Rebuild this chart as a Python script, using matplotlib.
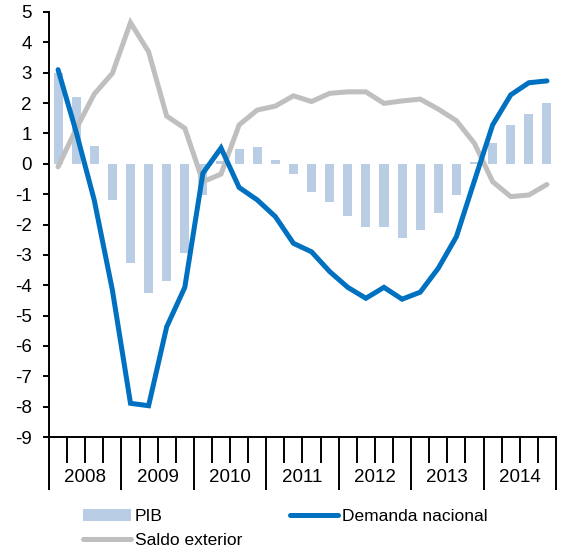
import matplotlib
matplotlib.use("Agg")
import matplotlib.pyplot as plt
import numpy as np

plt.rcParams['font.family'] = ['Liberation Sans', 'DejaVu Sans']

years = ['2008', '2009', '2010', '2011', '2012', '2013', '2014']
pib = [3.0, 2.2, 0.6, -1.2, -3.28, -4.27, -3.85, -2.93,
       -1.03, 0.1, 0.49, 0.56, 0.12, -0.34, -0.92, -1.27,
       -1.71, -2.07, -2.07, -2.43, -2.18, -1.63, -1.03, 0.05,
       0.67, 1.28, 1.64, 2.01]
demanda = [3.1, 1.05, -1.2, -4.16, -7.89, -7.97, -5.37, -4.07,
           -0.31, 0.52, -0.78, -1.19, -1.74, -2.62, -2.9, -3.55,
           -4.07, -4.43, -4.07, -4.46, -4.23, -3.44, -2.4, -0.55,
           1.28, 2.27, 2.67, 2.73]
saldo = [-0.1, 1.15, 2.3, 2.98, 4.65, 3.69, 1.57, 1.17,
         -0.59, -0.34, 1.28, 1.77, 1.9, 2.24, 2.05, 2.32,
         2.37, 2.37, 1.99, 2.07, 2.13, 1.8, 1.42, 0.67,
         -0.59, -1.08, -1.03, -0.68]

x = np.arange(len(pib))

fig = plt.figure(figsize=(5.61, 5.53), dpi=100)
ax = fig.add_axes([49/561, 116/553, (556-49)/561, (437-12)/553])

bar_c = '#B9CDE5'
blue = '#0070C0'
gray = '#BFBFBF'

hb = ax.bar(x, pib, width=0.5, color=bar_c, label='PIB', zorder=1)
hd, = ax.plot(x, demanda, color=blue, lw=3.6, label='Demanda nacional',
              solid_capstyle='round', solid_joinstyle='miter', zorder=3)
hs, = ax.plot(x, saldo, color=gray, lw=3.6, label='Saldo exterior',
              solid_capstyle='round', solid_joinstyle='miter', zorder=2)

ax.set_xlim(-0.5, len(pib) - 0.5)
ax.set_ylim(-9, 5)
ax.set_yticks(range(-9, 6))
ax.set_yticklabels([str(v) for v in range(-9, 6)], fontsize=13.5)

for s in ['top', 'right']:
    ax.spines[s].set_visible(False)
for s in ['left', 'bottom']:
    ax.spines[s].set_linewidth(1.4)

ax.tick_params(axis='y', length=4.5, width=1.4, pad=8)

major = np.arange(-0.5, len(pib), 4)
minor = [b for b in np.arange(-0.5, len(pib), 1) if b not in major]
ax.set_xticks(major)
ax.set_xticks(minor, minor=True)
ax.set_xticklabels([])
ax.tick_params(axis='x', which='major', direction='out', length=38, width=1.4)
ax.tick_params(axis='x', which='minor', direction='out', length=18.5, width=1.4)

trans = matplotlib.transforms.blended_transform_factory(ax.transData, fig.transFigure)
for k, yr in enumerate(years):
    ax.text(1.5 + 4 * k, 1 - 477/553, yr, transform=trans, ha='center', va='center',
            fontsize=13.5)

leg = fig.legend([hb, hs, hd], ['PIB', 'Saldo exterior', 'Demanda nacional'],
                 ncol=2, loc='upper left', bbox_to_anchor=(83/561, 1 - 509/553),
                 frameon=False, fontsize=12.5, handlelength=2.76, handletextpad=0.23,
                 columnspacing=2.75, labelspacing=0.52, borderaxespad=0, borderpad=0)

fig.savefig('out.png', dpi=100)
